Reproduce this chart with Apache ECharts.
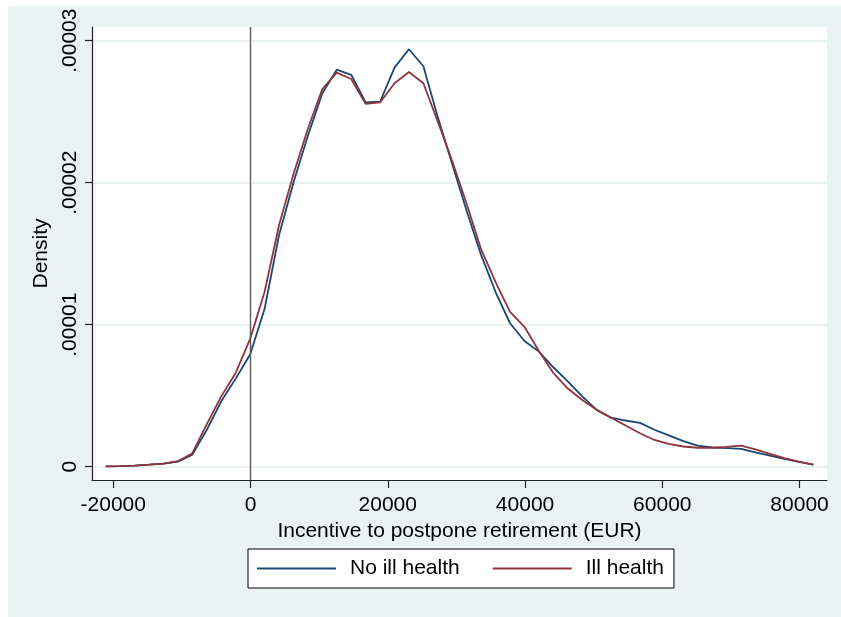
<!DOCTYPE html>
<html>
<head>
<meta charset="utf-8">
<script src="https://cdn.jsdelivr.net/npm/echarts@6/dist/echarts.min.js"></script>
<style>
  html, body { margin: 0; padding: 0; background: #fff; }
  #chart { width: 841px; height: 617px; }
</style>
</head>
<body>
<div id="chart"></div>
<script>
// Kernel density evaluation grid (EUR)
const incentive = [
  -21100, -18996, -16892, -14788, -12684, -10580, -8476, -6372, -4268, -2164,
  -60, 2044, 4148, 6252, 8356, 10460, 12564, 14668, 16772, 18876,
  20980, 23084, 25188, 27292, 29396, 31500, 33604, 35708, 37812, 39916,
  42020, 44124, 46228, 48332, 50436, 52540, 54644, 56748, 58852, 60956,
  63060, 65164, 67268, 69372, 71476, 73580, 75684, 77788, 79892, 81996
];

// Estimated density, no ill health
const densityNoIll = [
  0.02e-6, 0.04e-6, 0.07e-6, 0.14e-6, 0.22e-6, 0.35e-6, 0.85e-6, 2.6e-6, 4.6e-6, 6.2e-6,
  7.9e-6, 11.1e-6, 16.3e-6, 20.0e-6, 23.3e-6, 26.3e-6, 27.96e-6, 27.6e-6, 25.65e-6, 25.7e-6,
  28.1e-6, 29.4e-6, 28.2e-6, 24.6e-6, 21.3e-6, 18.0e-6, 14.9e-6, 12.3e-6, 10.1e-6, 8.85e-6,
  8.1e-6, 7.0e-6, 6.0e-6, 4.95e-6, 4.0e-6, 3.45e-6, 3.25e-6, 3.08e-6, 2.6e-6, 2.2e-6,
  1.8e-6, 1.48e-6, 1.35e-6, 1.3e-6, 1.25e-6, 1.0e-6, 0.78e-6, 0.55e-6, 0.33e-6, 0.14e-6
];

// Estimated density, ill health
const densityIll = [
  0.02e-6, 0.04e-6, 0.07e-6, 0.14e-6, 0.22e-6, 0.38e-6, 0.95e-6, 3.0e-6, 4.95e-6, 6.6e-6,
  9.0e-6, 12.3e-6, 17.0e-6, 20.6e-6, 23.8e-6, 26.6e-6, 27.75e-6, 27.3e-6, 25.55e-6, 25.65e-6,
  27.0e-6, 27.8e-6, 27.0e-6, 24.3e-6, 21.5e-6, 18.5e-6, 15.3e-6, 13.0e-6, 10.9e-6, 9.85e-6,
  8.15e-6, 6.6e-6, 5.5e-6, 4.7e-6, 4.0e-6, 3.45e-6, 2.9e-6, 2.35e-6, 1.88e-6, 1.6e-6,
  1.42e-6, 1.33e-6, 1.33e-6, 1.4e-6, 1.48e-6, 1.22e-6, 0.9e-6, 0.6e-6, 0.35e-6, 0.14e-6
];

const xTicks = [-20000, 0, 20000, 40000, 60000, 80000];
const yTicks = [0, 0.00001, 0.00002, 0.00003];

const seriesNames = ['No ill health', 'Ill health'];
const FONT = '"Liberation Sans", Arial, sans-serif';

const pairs = arr => incentive.map((x, i) => [x, arr[i]]);
const fmtDensity = v => {
  if (Math.abs(v) < 1e-12) return '0';
  return v.toFixed(5).replace(/^0/, '');
};

const chart = echarts.init(document.getElementById('chart'), null, { renderer: 'canvas' });

chart.setOption({
  backgroundColor: '#EAF2F3',
  animation: false,
  textStyle: { fontFamily: FONT, color: '#000' },
  graphic: [
    { type: 'rect', shape: { x: 0, y: 0, width: 841, height: 6 }, style: { fill: '#fff' }, silent: true },
    { type: 'rect', shape: { x: 0, y: 0, width: 8, height: 617 }, style: { fill: '#fff' }, silent: true }
  ],
  grid: {
    left: 92, top: 27, right: 14, bottom: 137,
    show: true, backgroundColor: '#fff', borderWidth: 0
  },
  legend: {
    left: 248, top: 549,
    orient: 'horizontal',
    backgroundColor: '#fff',
    borderColor: '#000', borderWidth: 1,
    padding: [9, 10, 9, 9],
    itemGap: 33,
    itemWidth: 79, itemHeight: 2,
    icon: 'rect',
    textStyle: { fontFamily: FONT, fontSize: 21, color: '#000', padding: [2, 0, 0, 9] },
    data: seriesNames
  },
  xAxis: {
    type: 'value',
    min: -23100, max: 84000,
    name: 'Incentive to postpone retirement (EUR)',
    nameLocation: 'middle', nameGap: 33,
    nameTextStyle: { fontFamily: FONT, fontSize: 21, color: '#000' },
    axisLine: { show: true, onZero: false, lineStyle: { color: '#222', width: 1.2 } },
    axisTick: { show: true, length: 8, customValues: xTicks, lineStyle: { color: '#222', width: 1.2 } },
    axisLabel: {
      show: true, customValues: xTicks, margin: 15,
      fontFamily: FONT, fontSize: 21, color: '#000',
      formatter: v => String(Math.round(v))
    },
    splitLine: { show: false }
  },
  yAxis: {
    type: 'value',
    min: -0.00000094, max: 0.000030965,
    name: 'Density',
    nameLocation: 'middle', nameGap: 40, nameRotate: 90,
    nameTextStyle: { fontFamily: FONT, fontSize: 21, color: '#000' },
    axisLine: { show: true, onZero: false, lineStyle: { color: '#222', width: 1.2 } },
    axisTick: { show: true, length: 7, customValues: yTicks, lineStyle: { color: '#222', width: 1.2 } },
    axisLabel: {
      show: true, customValues: yTicks, rotate: 90, margin: 11,
      fontFamily: FONT, fontSize: 21, color: '#000',
      formatter: fmtDensity
    },
    splitLine: { show: true, lineStyle: { color: '#E3EDEF', width: 1.5 } }
  },
  series: [
    {
      name: seriesNames[0],
      type: 'line',
      data: pairs(densityNoIll),
      symbol: 'none',
      smooth: false,
      color: '#1A476F',
      lineStyle: { color: '#1A476F', width: 1.8 },
      z: 3,
      markLine: {
        silent: true,
        symbol: ['none', 'none'],
        label: { show: false },
        lineStyle: { color: '#5a5a5a', width: 1.4, type: 'solid' },
        data: [{ xAxis: 0 }]
      }
    },
    {
      name: seriesNames[1],
      type: 'line',
      data: pairs(densityIll),
      symbol: 'none',
      smooth: false,
      color: '#90353B',
      lineStyle: { color: '#90353B', width: 1.8 },
      z: 4
    }
  ]
});
</script>
</body>
</html>
